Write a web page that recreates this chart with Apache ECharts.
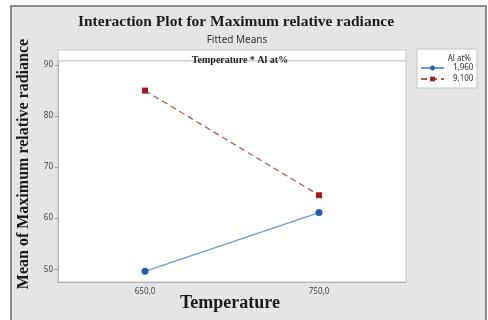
<!DOCTYPE html>
<html>
<head>
<meta charset="utf-8">
<script src="https://cdn.jsdelivr.net/npm/echarts@6/dist/echarts.min.js"></script>
<style>
  html, body { margin: 0; padding: 0; background: #ffffff; }
  #chart { width: 488px; height: 320px; }
</style>
</head>
<body>
<div id="chart"></div>
<script>
// Fitted means of maximum relative radiance by temperature and Al content
const temperatures = ['650,0', '750,0'];
const alLow = [49.6, 61.1];    // Al at% = 1,960
const alHigh = [85.0, 64.5];   // Al at% = 9,100
const yTicks = [50, 60, 70, 80, 90];

const chart = echarts.init(document.getElementById('chart'), null, { renderer: 'canvas' });

const serif = '"Liberation Serif", "DejaVu Serif", serif';
const sans = '"Noto Sans", "Open Sans", sans-serif';

chart.setOption({
  backgroundColor: '#ffffff',
  animation: false,
  graphic: [
    {
      type: 'rect', z: -10,
      shape: { x: 11, y: 6, width: 475, height: 320 },
      style: { fill: '#e5e5e5', stroke: '#8a8a8a', lineWidth: 2 }
    },
    {
      type: 'rect', z: -5,
      shape: { x: 58, y: 50, width: 348, height: 11 },
      style: { fill: '#ffffff', stroke: '#c4c4c4', lineWidth: 1 }
    },
    {
      type: 'rect', z: -5,
      shape: { x: 417, y: 49, width: 60, height: 39 },
      style: { fill: '#ffffff', stroke: '#c4c4c4', lineWidth: 1 }
    },
    {
      type: 'text', z: 10,
      style: {
        text: 'Al at%', x: 471, y: 59, align: 'right', verticalAlign: 'middle',
        font: '8px ' + sans, fill: '#333'
      }
    },
    {
      // vertical axis title
      type: 'text', z: 10,
      x: 24, y: 164, rotation: Math.PI / 2,
      style: {
        text: 'Mean of Maximum relative radiance', x: 0, y: 0,
        align: 'center', verticalAlign: 'middle',
        font: 'bold 16px ' + serif, fill: '#1a1a1a'
      }
    },
    {
      // horizontal axis title
      type: 'text', z: 10,
      style: {
        text: 'Temperature', x: 230, y: 303,
        align: 'center', verticalAlign: 'middle',
        font: 'bold 18px ' + serif, fill: '#1a1a1a'
      }
    }
  ],
  title: [
    {
      text: 'Interaction Plot for Maximum relative radiance',
      left: 231, top: 9, textAlign: 'center',
      textStyle: { fontFamily: serif, fontWeight: 'bold', fontSize: 15.5, color: '#1a1a1a' }
    },
    {
      text: 'Fitted Means',
      left: 232, top: 30, textAlign: 'center',
      textStyle: { fontFamily: sans, fontWeight: 'normal', fontSize: 10, color: '#333' }
    },
    {
      text: 'Temperature * Al at%',
      left: 235, top: 50, textAlign: 'center',
      textStyle: { fontFamily: serif, fontWeight: 'bold', fontSize: 10, color: '#1a1a1a' }
    }
  ],
  legend: {
    orient: 'vertical',
    left: 420, top: 64, padding: 0,
    itemWidth: 23, itemHeight: 6, itemGap: 3,
    textStyle: { fontFamily: sans, fontSize: 8, color: '#333', padding: [0, 0, 0, 4] },
    data: ['1,960', '9,100']
  },
  grid: {
    left: 58, top: 61, right: 82, bottom: 38,
    outerBoundsMode: 'none',
    containLabel: false,
    show: true, backgroundColor: '#ffffff', borderColor: '#c4c4c4', borderWidth: 1
  },
  xAxis: {
    type: 'category',
    data: temperatures,
    boundaryGap: true,
    axisLine: { lineStyle: { color: '#b0b0b0' } },
    axisTick: { alignWithLabel: true, length: 3, lineStyle: { color: '#999' } },
    axisLabel: { fontFamily: sans, fontSize: 8, color: '#444', margin: 6 },
    splitLine: { show: false }
  },
  yAxis: {
    type: 'value',
    min: 47.5, max: 90.8,
    axisLine: { show: true, lineStyle: { color: '#b0b0b0' } },
    axisTick: { show: true, length: 3, customValues: yTicks, lineStyle: { color: '#999' } },
    axisLabel: { fontFamily: sans, fontSize: 8, color: '#444', margin: 5, customValues: yTicks },
    splitLine: { show: false }
  },
  series: [
    {
      name: '1,960',
      type: 'line',
      data: alLow,
      symbol: 'circle', symbolSize: 7,
      lineStyle: { color: '#6b9bd0', width: 1.3 },
      itemStyle: { color: '#1f5fae' }
    },
    {
      name: '9,100',
      type: 'line',
      data: alHigh,
      symbol: 'rect', symbolSize: 6,
      lineStyle: { color: '#b05a5a', width: 1.3, type: [6, 4] },
      itemStyle: { color: '#9e1c1c' }
    }
  ]
});
</script>
</body>
</html>
